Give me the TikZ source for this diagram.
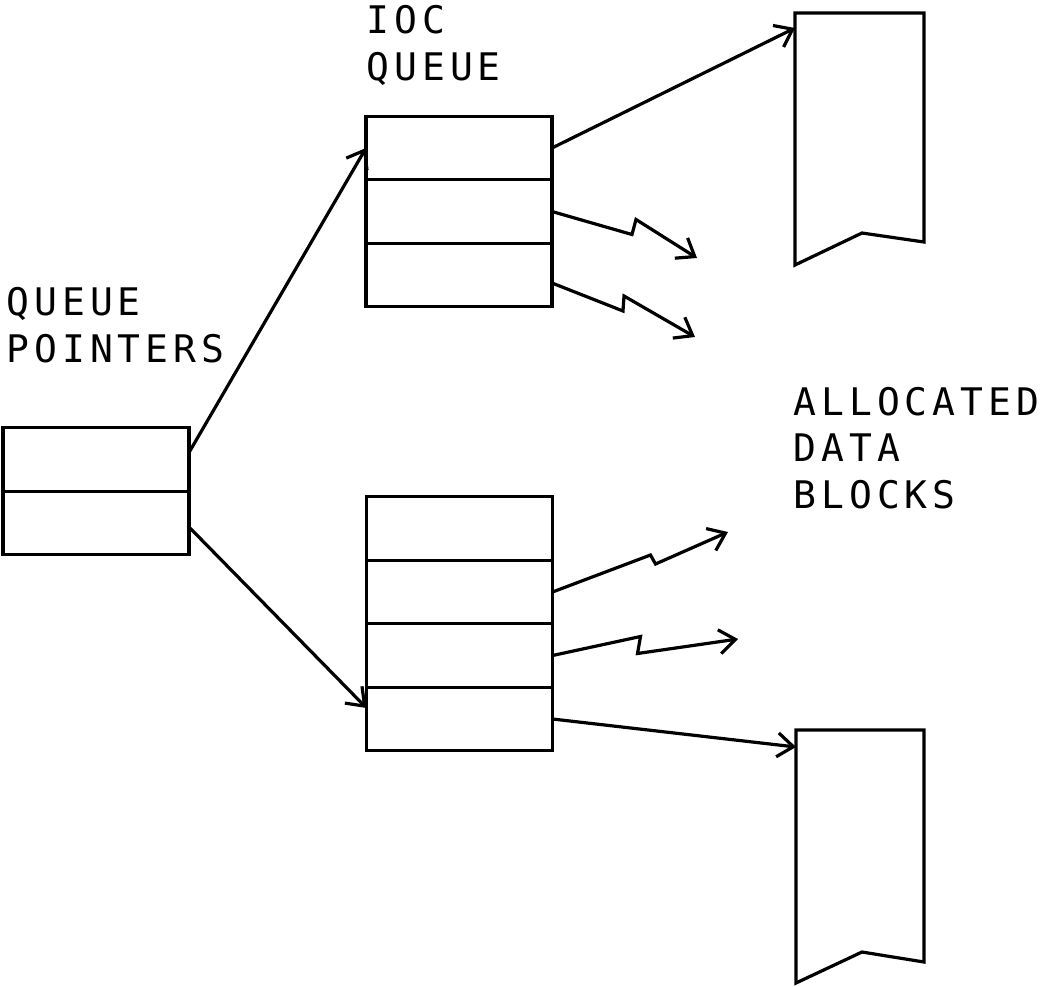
\documentclass[tikz,border=0pt]{standalone}
\usepackage{fontspec}
\newfontfamily\plotfont[LetterSpace=13]{DejaVu Sans Mono}
\usetikzlibrary{positioning,arrows.meta}

\tikzset{
    cell/.style={draw, rectangle, minimum width=186pt, minimum height=63.5pt, inner sep=0pt, outer sep=0pt},
    caption/.style={anchor=base west, align=left, inner sep=0pt, font=\plotfont\fontsize{38}{46.5}\selectfont},
    block/.style={line join=miter},
}

\begin{document}
\begin{tikzpicture}[x=1pt, y=-1pt, line width=3.2pt, >={Straight Barb[length=16pt,width=24pt]}]
        \useasboundingbox (0,0) rectangle (1047,986);

        % Labels.
        \node[caption] (iocq) at (365,80) {IOC\\QUEUE};
        \node[caption] (qptr) at (5,362) {QUEUE\\POINTERS};
        \node[caption] (alloc) at (792,508) {ALLOCATED\\DATA\\BLOCKS};

        % Queue pointers.
        \node[cell] (p1) at (96,459.5) {};
        \node[cell, below=0pt of p1] (p2) {};

        % IOC queues.
        \node[cell] (q1) at (459,148) {};
        \node[cell, below=0pt of q1] (q2) {};
        \node[cell, below=0pt of q2] (q3) {};

        \node[cell] (r1) at (459.5,528.5) {};
        \node[cell, below=0pt of r1] (r2) {};
        \node[cell, below=0pt of r2] (r3) {};
        \node[cell, below=0pt of r3] (r4) {};

        % Data blocks.
        \coordinate (blkA) at (795,13);
        \coordinate (blkB) at (796,730);
        \draw[block] (blkA) -- ++(129,0) -- ++(0,229) -- ++(-62,-9) -- ++(-67,32) -- cycle;
        \draw[block] (blkB) -- ++(128,0) -- ++(0,232) -- ++(-62,-10) -- ++(-66,31) -- cycle;
        \coordinate (inA) at (795,28);
        \coordinate (inB) at (796,747);

        % Free ends of the broken pointers.
        \coordinate (zA) at (697,258);
        \coordinate (zB) at (695,337);
        \coordinate (zC) at (728,532);
        \coordinate (zD) at (738,639);

        \draw[->] ([yshift=7pt]p1.east) -- (q1.west);
        \draw[->] ([yshift=-4pt]p2.east) -- ([yshift=11pt]r4.west);

        \draw[->] (q1.east) -- (inA);
        \draw[->] (q2.east) -- ++(80,23) -- ++(4,-15) -- (zA);
        \draw[->] ([yshift=-8pt]q3.east) -- ++(71,28) -- ++(1,-15) -- (zB);

        \draw[->] (r2.east) -- ++(98,-37) -- ++(5,9) -- (zC);
        \draw[->] (r3.east) -- ++(88,-19) -- ++(-3,17) -- (zD);
        \draw[->] (r4.east) -- (inB);
    \end{tikzpicture}
\end{document}
